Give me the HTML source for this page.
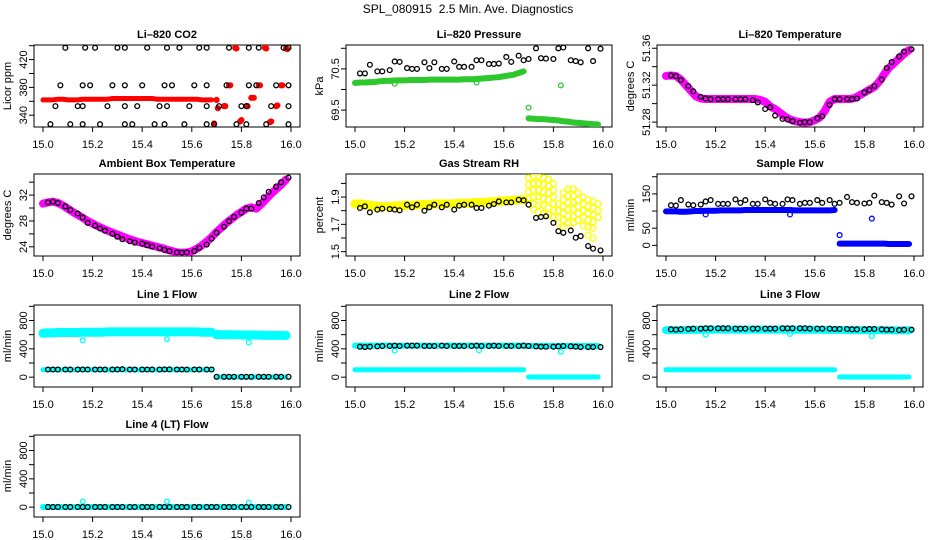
<!DOCTYPE html>
<html><head><meta charset="utf-8"><style>
html,body{margin:0;padding:0;background:#fff;}
svg{display:block;font-family:"Liberation Sans",Arial,sans-serif;}
</style></head><body>
<svg id="chart" width="936" height="540" viewBox="0 0 936 540" xmlns="http://www.w3.org/2000/svg">
<text x="468" y="13" text-anchor="middle" font-size="12">SPL_080915&#160;&#160;2.5 Min. Ave. Diagnostics</text>
</svg>
<script>
// ---------- shared time grids ----------
const xTicks = [15.0,15.2,15.4,15.6,15.8,16.0];
const xTickLabels = ["15.0","15.2","15.4","15.6","15.8","16.0"];
const tDense = [15.00,15.02,15.04,15.06,15.08,15.10,15.12,15.14,15.16,15.18,15.20,15.22,15.24,15.26,15.28,15.30,15.32,15.34,15.36,15.38,15.40,15.42,15.44,15.46,15.48,15.50,15.52,15.54,15.56,15.58,15.60,15.62,15.64,15.66,15.68,15.70,15.72,15.74,15.76,15.78,15.80,15.82,15.84,15.86,15.88,15.90,15.92,15.94,15.96,15.98];
const tBlack = [15.02,15.04,15.06,15.09,15.11,15.14,15.16,15.18,15.21,15.23,15.25,15.28,15.30,15.32,15.35,15.37,15.40,15.42,15.44,15.47,15.49,15.51,15.54,15.56,15.58,15.61,15.63,15.66,15.68,15.70,15.73,15.75,15.77,15.80,15.82,15.84,15.87,15.89,15.91,15.94,15.96,15.99];

// ---------- CO2 ----------
const co2BlackT = [15.09,15.17,15.21,15.30,15.33,15.42,15.50,15.55,15.63,15.66,15.75,15.83,15.87,15.97,15.99, 15.07,15.16,15.19,15.28,15.33,15.40,15.49,15.52,15.61,15.66,15.74,15.83,15.86,15.94,15.99, 15.05,15.14,15.16,15.26,15.33,15.38,15.47,15.50,15.59,15.66,15.71,15.80,15.82,15.92,15.99, 15.03,15.11,15.16,15.23,15.33,15.36,15.45,15.49,15.57,15.66,15.69,15.78,15.82,15.90,15.99];
const co2BlackV = [437,437,437,437,437,437,437,437,437,437,437,437,437,437,437, 383,383,383,383,383,383,383,383,383,383,383,383,383,383,383, 353,353,353,353,353,353,353,353,353,353,353,353,353,353,353, 327,327,327,327,327,327,327,327,327,327,327,327,327,327,327];
const co2BandV = [362,362,362,363,363,362,362,362,363,363,363,363,363,363,364,364,364,364,364,364,364,364,364,363,363,363,363,363,363,363,363,363,362,362,362];
const co2RedT = [15.69,15.70,15.705,15.73,15.735,15.75,15.755,15.775,15.78,15.795,15.80,15.82,15.825,15.84,15.85,15.87,15.875,15.895,15.90,15.915,15.92,15.94,15.945,15.96,15.965,15.98,15.985];
const co2RedV = [328,362,350,353,353,383,383,437,436,331,333,353,353,365,365,383,383,437,436,330,331,353,354,383,383,436,435];

// ---------- Pressure ----------
const presGreen = [70.16,70.17,70.17,70.18,70.18,70.20,70.21,70.21,70.22,70.22,70.22,70.23,70.23,70.23,70.23,70.24,70.24,70.24,70.24,70.24,70.24,70.24,70.25,70.25,70.25,70.26,70.27,70.28,70.29,70.30,70.32,70.34,70.36,70.40,70.44,69.30,69.29,69.28,69.28,69.27,69.26,69.25,69.23,69.22,69.20,69.19,69.18,69.17,69.16,69.15];
const presGreenOutT = [15.16,15.49,15.70,15.83];
const presGreenOutV = [70.14,70.17,69.56,70.10];
const presBlack = [70.39,70.39,70.60,70.44,70.44,70.47,70.68,70.67,70.52,70.50,70.50,70.66,70.52,70.66,70.50,70.50,70.68,70.55,70.55,70.55,70.71,70.71,70.62,70.62,70.63,70.79,70.67,70.82,70.71,70.74,71.00,70.76,70.75,70.74,71.00,71.02,70.71,70.69,70.66,71.00,70.69,70.99];

// ---------- Li-820 temperature ----------
const liTempMag = [51.330,51.3305,51.330,51.326,51.320,51.314,51.308,51.3055,51.305,51.305,51.305,51.305,51.305,51.305,51.305,51.305,51.305,51.305,51.305,51.304,51.302,51.297,51.294,51.290,51.286,51.283,51.281,51.280,51.2795,51.280,51.282,51.285,51.292,51.302,51.305,51.305,51.305,51.305,51.306,51.309,51.312,51.315,51.318,51.324,51.332,51.339,51.344,51.349,51.354,51.358];
const liTempBlack = [51.3305,51.3297,51.3255,51.3191,51.3134,51.3073,51.3056,51.3049,51.3049,51.3049,51.3049,51.3049,51.3049,51.3049,51.3038,51.3013,51.2942,51.2960,51.2871,51.2835,51.2828,51.2810,51.2793,51.2800,51.2800,51.2842,51.2864,51.2986,51.3049,51.3049,51.3049,51.3049,51.3056,51.3120,51.3148,51.3191,51.3262,51.3386,51.3450,51.3511,51.3564,51.3589];

// ---------- Ambient box temperature ----------
const ambMag = [30.67,30.87,30.98,30.8,30.4,29.9,29.4,28.95,28.5,28.0,27.6,27.2,26.85,26.5,26.2,25.9,25.6,25.3,25.05,24.8,24.6,24.4,24.2,24.0,23.8,23.55,23.35,23.15,23.08,23.13,23.3,23.7,24.2,24.8,25.5,26.3,27.0,27.7,28.3,28.9,29.4,29.9,30.1,29.9,30.6,31.4,32.2,32.9,33.6,34.4];
const ambBlack = [30.87,30.98,30.77,30.26,29.70,29.14,28.53,27.71,27.26,26.85,26.49,26.03,25.57,25.17,24.86,24.66,24.50,24.25,24.04,23.79,23.53,23.33,23.13,23.08,23.13,23.33,23.84,24.35,25.27,26.18,27.10,27.97,28.63,29.29,29.91,29.91,30.77,31.64,32.50,33.32,33.99,34.70];

// ---------- Gas stream RH ----------
const rhYellowBand = [1.85,1.85,1.845,1.84,1.835,1.83,1.83,1.83,1.835,1.835,1.84,1.84,1.84,1.845,1.845,1.845,1.85,1.85,1.85,1.85,1.85,1.855,1.855,1.855,1.86,1.86,1.86,1.865,1.865,1.87,1.87,1.875,1.875,1.88,1.88];
const rhCloudT = [15.70,15.70,15.70,15.70,15.70, 15.72,15.72,15.72,15.72,15.72,15.72, 15.74,15.74,15.74,15.74,15.74,15.74, 15.76,15.76,15.76,15.76,15.76,15.76, 15.78,15.78,15.78,15.78,15.78,15.78, 15.80,15.80,15.80,15.80,15.80,15.80, 15.82,15.82,15.82,15.82, 15.84,15.84,15.84,15.84,15.84,15.84, 15.86,15.86,15.86,15.86,15.86,15.86, 15.88,15.88,15.88,15.88,15.88,15.88, 15.90,15.90,15.90,15.90,15.90, 15.92,15.92,15.92,15.92,15.92, 15.94,15.94,15.94,15.94,15.94,15.94, 15.96,15.96,15.96,15.96,15.96,15.96, 15.98,15.98,15.98];
const rhCloudV = [2.04,1.99,1.94,1.89,1.85, 2.05,2.00,1.95,1.90,1.85,1.81, 2.05,2.00,1.95,1.90,1.84,1.79, 2.04,1.99,1.94,1.89,1.84,1.78, 2.03,1.98,1.93,1.88,1.82,1.77, 2.00,1.95,1.90,1.85,1.80,1.75, 1.85,1.80,1.75,1.71, 1.93,1.88,1.83,1.78,1.73,1.68, 1.96,1.91,1.86,1.81,1.76,1.71, 1.96,1.91,1.86,1.81,1.76,1.71, 1.93,1.88,1.83,1.78,1.73, 1.90,1.85,1.80,1.75,1.69, 1.88,1.83,1.78,1.73,1.68,1.62, 1.87,1.82,1.77,1.72,1.67,1.60, 1.85,1.80,1.75];
const rhBlack = [1.820,1.832,1.788,1.808,1.815,1.812,1.808,1.803,1.844,1.825,1.844,1.800,1.825,1.844,1.825,1.844,1.808,1.837,1.844,1.844,1.820,1.820,1.837,1.849,1.868,1.861,1.861,1.880,1.876,1.844,1.747,1.754,1.759,1.711,1.650,1.638,1.655,1.602,1.614,1.541,1.522,1.509];

// ---------- Sample flow ----------
const sfBlue = [99,99,99,98,98,99,100,100,101,101,101,102,102,102,102,102,103,103,103,103,103,103,103,103,103,103,102,102,102,102,102,102,102,102,103,5,5,5,5,5,5,5,5,5,5,4,4,4,4,4];
const sfBlueOutT = [15.16,15.50,15.70,15.83];
const sfBlueOutV = [90,90,30,78];
const sfBlack = [117,116,132,119,117,119,128,132,121,121,121,134,124,132,121,121,134,124,121,121,134,132,121,124,124,132,124,132,121,124,141,126,124,122,124,145,126,124,119,143,122,143];

// ---------- Line flows ----------
const l1Upper = [620,625,625,630,630,630,630,630,635,635,635,635,635,640,640,640,640,640,640,640,640,640,640,640,640,640,640,640,640,640,640,640,635,635,635,600,600,600,598,598,595,595,595,595,592,592,590,590,590,588];
const l1Lower = [104,104,104,104,104,104,104,104,104,104,104,104,104,104,104,104,104,104,104,104,104,104,104,104,104,104,104,104,104,104,104,104,104,104,104,2,2,2,2,2,2,2,2,2,2,2,2,2,2,2];
const l1OutT = [15.16,15.50,15.83];
const l1OutV = [520,535,490];
const l1Black = [108,108,108,108,108,108,108,108,108,108,108,108,110,112,108,108,108,108,108,108,110,110,108,108,108,108,108,108,108,5,5,5,5,5,5,5,5,5,5,5,5,5];

const l2Upper = [445,445,445,445,445,445,445,445,445,445,445,445,445,445,445,445,445,445,445,445,445,445,445,445,445,445,445,445,445,445,445,445,445,445,445,440,440,440,440,440,440,440,440,440,440,440,440,440,440,440];
const l2Lower = l1Lower.slice();
const l2OutT = [15.16,15.50,15.83];
const l2OutV = [375,380,360];
const l2Black = [430,425,430,435,440,440,445,440,445,445,445,440,440,440,445,440,440,440,440,440,445,440,440,445,440,440,440,440,445,440,435,430,430,430,435,440,435,430,425,425,425,425];

const l3Upper = [665,665,665,665,668,668,670,670,670,672,672,672,672,672,672,672,672,672,672,672,672,672,672,672,672,672,670,670,670,670,670,670,668,668,668,668,668,665,665,665,665,665,663,663,663,663,660,660,660,660];
const l3Lower = l1Lower.slice();
const l3OutT = [15.16,15.50,15.83];
const l3OutV = [600,610,580];
const l3Black = [675,670,675,680,685,685,690,690,690,690,690,685,685,685,685,685,685,685,685,690,690,690,690,690,685,685,685,685,680,680,680,675,675,675,680,680,675,670,670,665,670,670];

const l4Cyan = [2,2,2,2,2,2,2,2,2,2,2,2,2,2,2,2,2,2,2,2,2,2,2,2,2,2,2,2,2,2,2,2,2,2,2,2,2,2,2,2,2,2,2,2,2,2,2,2,2,2];
const l4OutT = [15.16,15.50,15.83];
const l4OutV = [80,80,65];
const l4Black = [2,2,2,2,2,2,2,2,2,2,2,2,2,2,2,2,2,2,2,2,2,2,2,2,2,2,2,2,2,2,2,2,2,2,2,2,2,2,2,2,2,2];

// ---------- drawing ----------
const NS = "http://www.w3.org/2000/svg";
const svg = document.getElementById('chart');
const lefts = [34,346,657];
const tops = [45,174,305,435];
const W = 266, H = 82;

function mk(tag, attrs, parent){
  const e = document.createElementNS(NS, tag);
  for (const k in attrs) e.setAttribute(k, attrs[k]);
  (parent||svg).appendChild(e);
  return e;
}

function panel(key, c, r, title, ylab, ymin, ymax, yTicks, yLabVals, yLabText){
  const L = lefts[c], T = tops[r];
  const g = mk('g', {});
  
  
  const xs = t => L + 9 + (t - 15) * 248;
  const ys = v => T + H - (v - ymin) / (ymax - ymin) * H;
  const tt = mk('text', {x: L + W/2, y: T - 7, 'text-anchor':'middle', 'font-size':11, 'font-weight':'bold'}, g);
  tt.textContent = title;
  
  
  const box = mk('rect', {x: L, y: T, width: W, height: H, fill:'none', stroke:'#000', 'stroke-width':1}, g);
  
  
  const xa = mk('g', {}, g);
  
  
  xTicks.forEach((t, i) => {
    mk('line', {x1: xs(t), x2: xs(t), y1: T + H, y2: T + H + 5, stroke:'#000'}, xa);
    const lb = mk('text', {x: xs(t), y: T + H + 21, 'text-anchor':'middle', 'font-size':11}, xa);
    lb.textContent = xTickLabels[i];
    
    
  });
  const ya = mk('g', {}, g);
  
  
  yTicks.forEach(v => {
    mk('line', {x1: L - 5, x2: L, y1: ys(v), y2: ys(v), stroke:'#000'}, ya);
  });
  yLabVals.forEach((v, i) => {
    const lb = mk('text', {x: 0, y: 0, 'text-anchor':'middle', 'font-size':11, transform:`translate(${L-7},${ys(v)}) rotate(-90)`}, ya);
    lb.textContent = yLabText[i];
    
    
  });
  const yt = mk('text', {x: 0, y: 0, 'text-anchor':'middle', 'font-size':11, transform:`translate(${L-23},${T+H/2}) rotate(-90)`}, g);
  yt.textContent = ylab;
  
  
  const clip = 'clip-' + key;
  const cp = mk('clipPath', {id: clip}, g);
  mk('rect', {x: L, y: T, width: W, height: H}, cp);
  const plot = mk('g', {'clip-path': `url(#${clip})`}, g);
  return {xs, ys, plot, range: ymax - ymin};
}

function dots(p, name, ts, vs, color, rad, filled){
  const g = mk('g', {}, p.plot);
  
  
  for (let i = 0; i < vs.length; i++){
    if (vs[i] === null || ts[i] === undefined) continue;
    const c = mk('circle', {cx: p.xs(ts[i]), cy: p.ys(vs[i]), r: rad,
      fill: filled ? color : 'none', stroke: color, 'stroke-width': filled ? 1 : 1.3}, g);
    
    
  }
}

// dense band: thick stroke through consecutive samples (broken where the pixel jump exceeds breakPx)
function band(p, name, ts, vs, color, thick, breakPx){
  const g = mk('g', {}, p.plot);
  
  
  let seg = [];
  const flush = () => {
    if (!seg.length) return;
    const pl = mk('polyline', {points: seg.join(' '), fill:'none', stroke: color, 'stroke-width': thick, 'stroke-linecap':'round', 'stroke-linejoin':'round'}, g);
    
    
    seg = [];
  };
  for (let i = 0; i < vs.length; i++){
    if (i > 0 && Math.abs(p.ys(vs[i]) - p.ys(vs[i-1])) > breakPx) flush();
    seg.push(p.xs(ts[i]) + ',' + p.ys(vs[i]));
  }
  flush();
}

const flowTicks = [0,200,400,600,800,1000];
const flowLab = [0,400,800];
const flowLabT = ["0","400","800"];

// CO2
let p = panel('co2', 0, 0, 'Li\u2013820 CO2', 'Licor ppm', 323, 441, [340,360,380,400,420,440], [340,380,420], ["340","380","420"]);
band(p, 'co2-red-band', tDense.slice(0, co2BandV.length), co2BandV, '#f00', 5, 12);
dots(p, 'co2-red-series', co2RedT, co2RedV, '#f00', 2.6, true);
dots(p, 'co2-black-series', co2BlackT, co2BlackV, '#000', 2.4, false);

// Pressure
p = panel('pressure', 1, 0, 'Li\u2013820 Pressure', 'kPa', 69.09, 71.08, [69.5,70,70.5,71], [69.5,70.5], ["69.5","70.5"]);
band(p, 'pressure-green-series', tDense, presGreen, '#2dc82d', 6, 12);
dots(p, 'pressure-green-outliers', presGreenOutT, presGreenOutV, '#2dc82d', 2.4, false);
dots(p, 'pressure-black-series', tBlack, presBlack, '#000', 2.4, false);

// Li-820 temperature
p = panel('li820-temp', 2, 0, 'Li\u2013820 Temperature', 'degrees C', 51.2747, 51.3635, [51.28,51.30,51.32,51.34,51.36], [51.28,51.32,51.36], ["51.28","51.32","51.36"]);
band(p, 'li820-temp-magenta-series', tDense, liTempMag, '#f0f', 8, 30);
dots(p, 'li820-temp-black-series', tBlack, liTempBlack, '#000', 2.4, false);

// Ambient
p = panel('ambient-temp', 0, 1, 'Ambient Box Temperature', 'degrees C', 22.58, 35.26, [24,26,28,30,32,34], [24,28,32], ["24","28","32"]);
band(p, 'ambient-magenta-series', tDense, ambMag, '#f0f', 8, 30);
dots(p, 'ambient-black-series', tBlack, ambBlack, '#000', 2.4, false);

// RH
p = panel('gas-rh', 1, 1, 'Gas Stream RH', 'percent', 1.468, 2.069, [1.5,1.6,1.7,1.8,1.9,2.0], [1.5,1.7,1.9], ["1.5","1.7","1.9"]);
band(p, 'rh-yellow-band', tDense.slice(0, rhYellowBand.length), rhYellowBand, '#ff0', 9, 12);
dots(p, 'rh-yellow-cloud', rhCloudT, rhCloudV, '#ff0', 3, false);
dots(p, 'rh-black-series', tBlack, rhBlack, '#000', 2.4, false);

// Sample flow
p = panel('sample-flow', 2, 1, 'Sample Flow', 'ml/min', -31, 208, [0,50,100,150,200], [0,50,150], ["0","50","150"]);
band(p, 'sample-flow-blue-series', tDense, sfBlue, '#00f', 6, 3);
dots(p, 'sample-flow-blue-outliers', sfBlueOutT, sfBlueOutV, '#00f', 2.4, false);
dots(p, 'sample-flow-black-series', tBlack, sfBlack, '#000', 2.4, false);

// Line 1
p = panel('line1-flow', 0, 2, 'Line 1 Flow', 'ml/min', -139, 1019, flowTicks, flowLab, flowLabT);
band(p, 'line1-cyan-upper', tDense, l1Upper, '#0ff', 9, 2);
band(p, 'line1-cyan-lower', tDense, l1Lower, '#0ff', 5, 2);
dots(p, 'line1-cyan-outliers', l1OutT, l1OutV, '#0ff', 2.4, false);
dots(p, 'line1-black-series', tBlack, l1Black, '#000', 2.4, false);

// Line 2
p = panel('line2-flow', 1, 2, 'Line 2 Flow', 'ml/min', -139, 1019, flowTicks, flowLab, flowLabT);
band(p, 'line2-cyan-upper', tDense, l2Upper, '#0ff', 6, 2);
band(p, 'line2-cyan-lower', tDense, l2Lower, '#0ff', 5, 2);
dots(p, 'line2-cyan-outliers', l2OutT, l2OutV, '#0ff', 2.4, false);
dots(p, 'line2-black-series', tBlack, l2Black, '#000', 2.4, false);

// Line 3
p = panel('line3-flow', 2, 2, 'Line 3 Flow', 'ml/min', -139, 1019, flowTicks, flowLab, flowLabT);
band(p, 'line3-cyan-upper', tDense, l3Upper, '#0ff', 8, 2);
band(p, 'line3-cyan-lower', tDense, l3Lower, '#0ff', 5, 2);
dots(p, 'line3-cyan-outliers', l3OutT, l3OutV, '#0ff', 2.4, false);
dots(p, 'line3-black-series', tBlack, l3Black, '#000', 2.4, false);

// Line 4
p = panel('line4-flow', 0, 3, 'Line 4 (LT) Flow', 'ml/min', -139, 1019, flowTicks, flowLab, flowLabT);
band(p, 'line4-cyan-series', tDense, l4Cyan, '#0ff', 6, 2);
dots(p, 'line4-cyan-outliers', l4OutT, l4OutV, '#0ff', 2.4, false);
dots(p, 'line4-black-series', tBlack, l4Black, '#000', 2.4, false);
</script>
</body></html>
